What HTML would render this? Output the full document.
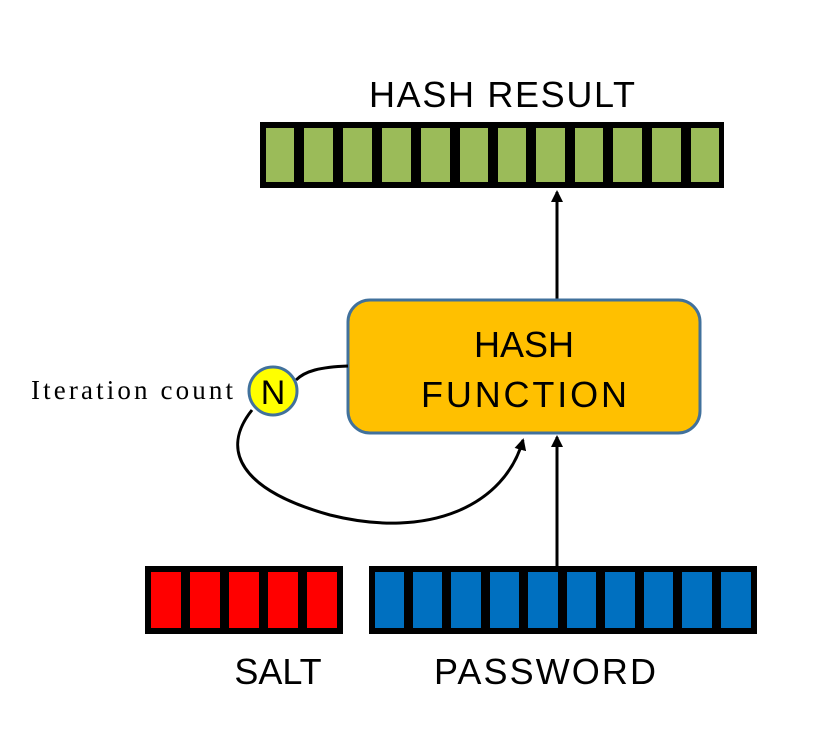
<!DOCTYPE html>
<html><head><style>body{margin:0;background:#fff}</style></head><body>
<svg width="824" height="732" xmlns="http://www.w3.org/2000/svg">
<defs><marker id="a" markerWidth="12" markerHeight="12" refX="10" refY="6" orient="auto" markerUnits="userSpaceOnUse"><path d="M0,0 L12,6 L0,12 Z" fill="#000"/></marker></defs>
<text x="502" y="107" font-family="Liberation Sans, sans-serif" font-size="36" text-anchor="middle" fill="#000" textLength="266">HASH RESULT</text>
<rect x="260" y="122" width="464" height="66" fill="#000"/>
<g fill="#9BBB59">
<rect x="266" y="128" width="28" height="54"/><rect x="304" y="128" width="29" height="54"/><rect x="343" y="128" width="29" height="54"/><rect x="382" y="128" width="29" height="54"/><rect x="421" y="128" width="29" height="54"/><rect x="460" y="128" width="28" height="54"/><rect x="498" y="128" width="28" height="54"/><rect x="536" y="128" width="29" height="54"/><rect x="575" y="128" width="28" height="54"/><rect x="613" y="128" width="29" height="54"/><rect x="652" y="128" width="29" height="54"/><rect x="691" y="128" width="28" height="54"/>
</g>
<line x1="557" y1="300" x2="557" y2="192" stroke="#000" stroke-width="3" marker-end="url(#a)"/>
<rect x="348" y="300" width="352" height="133" rx="22" fill="#FFC000" stroke="#41719C" stroke-width="3"/>
<text x="524" y="357" font-family="Liberation Sans, sans-serif" font-size="36" text-anchor="middle">HASH</text>
<text x="524" y="407" font-family="Liberation Sans, sans-serif" font-size="36" text-anchor="middle" textLength="206">FUNCTION</text>
<path d="M348,366 C320,367 305,371 296,380" fill="none" stroke="#000" stroke-width="3"/>
<path d="M252,410 C220,450 240,490 330,515 C430,540 505,505 523,440" fill="none" stroke="#000" stroke-width="3" marker-end="url(#a)"/>
<circle cx="273" cy="391" r="24" fill="#FFFF00" stroke="#41719C" stroke-width="3"/>
<text x="273" y="404" font-family="Liberation Sans, sans-serif" font-size="34" text-anchor="middle">N</text>
<text x="31" y="399" font-family="Liberation Serif, serif" font-size="27" textLength="202">Iteration count</text>
<line x1="557" y1="566" x2="557" y2="437" stroke="#000" stroke-width="3" marker-end="url(#a)"/>
<rect x="145" y="566" width="198" height="68" fill="#000"/>
<g fill="#FF0000">
<rect x="151" y="572" width="30" height="56"/><rect x="190" y="572" width="30" height="56"/><rect x="229" y="572" width="30" height="56"/><rect x="268" y="572" width="30" height="56"/><rect x="307" y="572" width="30" height="56"/>
</g>
<rect x="369" y="566" width="388" height="68" fill="#000"/>
<g fill="#0070C0">
<rect x="375" y="572" width="29" height="56"/><rect x="413" y="572" width="29" height="56"/><rect x="451" y="572" width="30" height="56"/><rect x="490" y="572" width="29" height="56"/><rect x="528" y="572" width="30" height="56"/><rect x="567" y="572" width="29" height="56"/><rect x="605" y="572" width="30" height="56"/><rect x="644" y="572" width="29" height="56"/><rect x="682" y="572" width="30" height="56"/><rect x="721" y="572" width="30" height="56"/>
</g>
<text x="278" y="684" font-family="Liberation Sans, sans-serif" font-size="36" text-anchor="middle">SALT</text>
<text x="545" y="684" font-family="Liberation Sans, sans-serif" font-size="36" text-anchor="middle" textLength="222">PASSWORD</text>
</svg>
</body></html>
